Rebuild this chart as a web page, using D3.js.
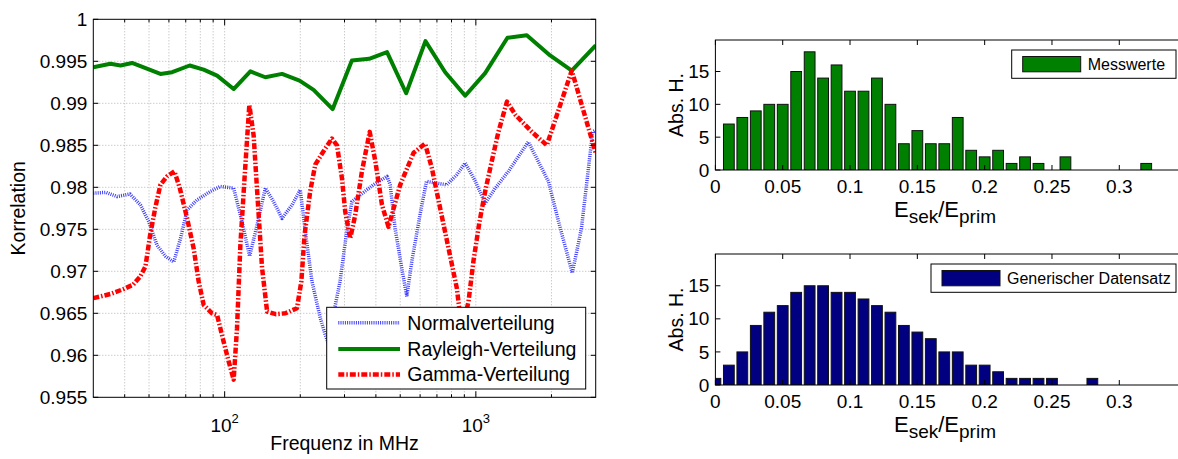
<!DOCTYPE html>
<html><head><meta charset="utf-8">
<script src="https://cdn.jsdelivr.net/npm/d3@7"></script>
<style>
body{margin:0;background:#fff;}
svg{display:block;font-family:"Liberation Sans",Arial,sans-serif;}
</style></head>
<body><svg id="c" width="1178" height="459"></svg>
<script>
// ---------- DATA ----------
const freqRayleigh = [30,35.1,38.5,42.8,55.5,61.8,72.6,82.5,93.3,108.6,126.6,145.2,169.2,198.7,226,269,321,376,443,528,630,755,907,1089,1336,1595,1975,2409,3000];
const valRayleigh  = [0.9943,0.9947,0.9945,0.9948,0.9935,0.9937,0.9945,0.9940,0.9933,0.9917,0.9938,0.9931,0.9935,0.9927,0.9916,0.9893,0.9951,0.9953,0.9961,0.9912,0.9974,0.9937,0.9909,0.9936,0.9978,0.9981,0.9957,0.9939,0.9969];

const freqGamma = [30,35.1,39.7,43.2,46.2,48.4,50.5,52.9,55.5,59,63.1,66.3,70.9,75.3,78.8,82.5,89.1,93.3,99.1,103.7,108.6,112,115.5,120,125.4,130.4,135.8,140.9,147.6,159.8,174.4,194,202,208,219,229.5,247.6,267.4,280,293,302,316,331,352,378,398,423,449,500,565,628,668,721,779,840,880,935,978,1034,1089,1157,1230,1330,1440,1672,1916,2409,3000];
const valGamma  = [0.9668,0.9673,0.9679,0.9684,0.9694,0.9706,0.9743,0.9775,0.9803,0.9813,0.9819,0.9799,0.9763,0.9727,0.9688,0.9660,0.9650,0.9648,0.9616,0.9593,0.9571,0.9632,0.9731,0.9811,0.9898,0.9862,0.9779,0.9704,0.9652,0.9649,0.9650,0.9656,0.9688,0.9743,0.9795,0.9827,0.9843,0.9858,0.9850,0.9811,0.9771,0.9739,0.9767,0.9819,0.9866,0.9831,0.9779,0.9753,0.9803,0.9841,0.9852,0.9823,0.9775,0.9727,0.9680,0.9630,0.9664,0.9712,0.9759,0.9795,0.9831,0.9866,0.9902,0.9886,0.9866,0.9850,0.9939,0.9841];

const freqNormal = [30,33.7,37.3,42,46.2,49.9,53.8,58.1,62.7,66.7,70.9,77.6,87.7,96.1,108.6,117.3,125.7,134.6,145.2,156.6,169.2,185.5,200,209.6,222.6,240.4,251.8,262,275,288,306,321,347,391,443,456,477,507,531,556,599,636,697,766,840,907,996,1089,1195,1348,1617,1945,2135,2421,2632,2918,3000];
const valNormal  = [0.9793,0.9794,0.9789,0.9792,0.9779,0.9759,0.9731,0.9718,0.9711,0.9739,0.9773,0.9785,0.9795,0.9801,0.9799,0.9759,0.9718,0.9755,0.9799,0.9783,0.9763,0.9779,0.9797,0.9747,0.9688,0.9644,0.9624,0.9610,0.9658,0.9688,0.9747,0.9783,0.9791,0.9803,0.9813,0.9803,0.9751,0.9704,0.9670,0.9712,0.9767,0.9807,0.9805,0.9803,0.9815,0.9829,0.9807,0.9781,0.9799,0.9819,0.9854,0.9807,0.9759,0.9698,0.9751,0.9866,0.9868];

const seriesNames = ["Normalverteilung","Rayleigh-Verteilung","Gamma-Verteilung"];
const yTicksLeft = [1,0.995,0.99,0.985,0.98,0.975,0.97,0.965,0.96,0.955];
const yTickLabelsLeft = ["1","0.995","0.99","0.985","0.98","0.975","0.97","0.965","0.96","0.955"];
const xMajorLeft = [100,1000];
const xMajorExp = ["2","3"];
const xMinorLeft = [40,50,60,70,80,90,200,300,400,500,600,700,800,900,2000];

// histogram bins (centres)
const binsMess = [0.01,0.02,0.03,0.04,0.05,0.06,0.07,0.08,0.09,0.10,0.11,0.12,0.13,0.14,0.15,0.16,0.17,0.18,0.19,0.20,0.21,0.22,0.23,0.24,0.25,0.26,0.27,0.28,0.29,0.30,0.31,0.32];
const countsMess = [7,8,9,10,10,15,18,14,16,12,12,14,10,4,6,4,4,8,3,2,3,1,2,1,0,2,0,0,0,0,0,1];
const binsGen = [0,0.01,0.02,0.03,0.04,0.05,0.06,0.07,0.08,0.09,0.10,0.11,0.12,0.13,0.14,0.15,0.16,0.17,0.18,0.19,0.20,0.21,0.22,0.23,0.24,0.25,0.26,0.27,0.28];
const countsGen = [1,3,5,9,11,12,14,15,15,14,14,13,12,11,9,8,7,5,5,3,3,2,1,1,1,1,0,0,1];
const histXTicks = [0,0.05,0.1,0.15,0.2,0.25,0.3];
const histXTickLabels = ["0","0.05","0.1","0.15","0.2","0.25","0.3"];
const histYTicks = [0,5,10,15];
const histLegend = ["Messwerte","Generischer Datensatz"];

// ---------- DRAW ----------
const svg = d3.select("#c");
const axisCol = "#000";
const TF = 19;    // tick font
const LF = 19.5;  // label font

// Left chart
const L = {x0:93.3, x1:595.7, y0:19.3, y1:397.3};
const x = d3.scaleLog().domain([30,3000]).range([L.x0, L.x1]);
const y = d3.scaleLinear().domain([0.955,1]).range([L.y1, L.y0]);

const gL = svg.append("g");
const gridCol = "#b4b4b4";
gL.selectAll("line.gy").data(yTicksLeft.slice(1,-1)).join("line")
  .attr("x1",L.x0).attr("x2",L.x1).attr("y1",d=>y(d)).attr("y2",d=>y(d))
  .attr("stroke",gridCol).attr("stroke-width",1).attr("stroke-dasharray","1,2");
gL.selectAll("line.gx").data(xMinorLeft.concat(xMajorLeft)).join("line")
  .attr("x1",d=>x(d)).attr("x2",d=>x(d)).attr("y1",L.y0).attr("y2",L.y1)
  .attr("stroke",gridCol).attr("stroke-width",1).attr("stroke-dasharray","1,2");

svg.append("clipPath").attr("id","clipL").append("rect")
  .attr("x",L.x0).attr("y",L.y0).attr("width",L.x1-L.x0).attr("height",L.y1-L.y0);

const line = d3.line().x(d=>x(d[0])).y(d=>y(d[1]));
const dataN = freqNormal.map((f,i)=>[f,valNormal[i]]);
const dataR = freqRayleigh.map((f,i)=>[f,valRayleigh[i]]);
const dataG = freqGamma.map((f,i)=>[f,valGamma[i]]);
const styles = [
  {stroke:"#3c3cff", w:3.5, dash:"1,1.2"},
  {stroke:"#008000", w:4, dash:null},
  {stroke:"#ff0000", w:4.5, dash:"6,2,1.5,2"}
];
const gLines = gL.append("g").attr("clip-path","url(#clipL)");
[dataN,dataR,dataG].forEach((d,i)=>{
  gLines.append("path").datum(d).attr("d",line).attr("fill","none")
    .attr("stroke",styles[i].stroke).attr("stroke-width",styles[i].w)
    .attr("stroke-dasharray",styles[i].dash).attr("stroke-linejoin","round");
});

gL.append("rect").attr("x",L.x0).attr("y",L.y0).attr("width",L.x1-L.x0).attr("height",L.y1-L.y0)
  .attr("fill","none").attr("stroke",axisCol).attr("stroke-width",1);
yTicksLeft.forEach(t=>{
  gL.append("line").attr("x1",L.x0).attr("x2",L.x0+5).attr("y1",y(t)).attr("y2",y(t)).attr("stroke",axisCol);
  gL.append("line").attr("x1",L.x1).attr("x2",L.x1-5).attr("y1",y(t)).attr("y2",y(t)).attr("stroke",axisCol);
});
xMinorLeft.forEach(t=>{
  gL.append("line").attr("x1",x(t)).attr("x2",x(t)).attr("y1",L.y1).attr("y2",L.y1-3).attr("stroke",axisCol);
  gL.append("line").attr("x1",x(t)).attr("x2",x(t)).attr("y1",L.y0).attr("y2",L.y0+3).attr("stroke",axisCol);
});
xMajorLeft.forEach(t=>{
  gL.append("line").attr("x1",x(t)).attr("x2",x(t)).attr("y1",L.y1).attr("y2",L.y1-6).attr("stroke",axisCol);
  gL.append("line").attr("x1",x(t)).attr("x2",x(t)).attr("y1",L.y0).attr("y2",L.y0+6).attr("stroke",axisCol);
});
gL.selectAll("text.yl").data(yTicksLeft).join("text")
  .attr("x",L.x0-6).attr("y",d=>y(d)).attr("dy","0.35em").attr("text-anchor","end")
  .attr("font-size",TF).text((d,i)=>yTickLabelsLeft[i]);
xMajorLeft.forEach((t,i)=>{
  const tx = gL.append("text").attr("x",x(t)).attr("y",L.y1+35).attr("text-anchor","middle").attr("font-size",TF);
  tx.append("tspan").text("10");
  tx.append("tspan").attr("dy",-9).attr("font-size",13).text(xMajorExp[i]);
});
gL.append("text").attr("x",(L.x0+L.x1)/2).attr("y",450).attr("text-anchor","middle")
  .attr("font-size",LF).text("Frequenz in MHz");
gL.append("text").attr("transform",`translate(25,${(L.y0+L.y1)/2}) rotate(-90)`)
  .attr("text-anchor","middle").attr("font-size",LF).text("Korrelation");

// legend left
const lg = {x:326.7, y:307.3, w:259, h:81.7};
gL.append("rect").attr("x",lg.x).attr("y",lg.y).attr("width",lg.w).attr("height",lg.h)
  .attr("fill","#fff").attr("stroke",axisCol);
const rowY = [322.7,349,374.5];
seriesNames.forEach((n,i)=>{
  gL.append("line").attr("x1",338.3).attr("x2",400).attr("y1",rowY[i]).attr("y2",rowY[i])
    .attr("stroke",styles[i].stroke).attr("stroke-width",styles[i].w).attr("stroke-dasharray",styles[i].dash);
  gL.append("text").attr("x",407.3).attr("y",rowY[i]).attr("dy","0.35em").attr("font-size",LF).text(n);
});

// ---------- histograms ----------
function hist(top, bottom, bins, counts, fill, legendText, legendBox, clipId){
  const H = {x0:715.4, x1:1186.6, y0:top, y1:bottom};
  const hx = d3.scaleLinear().domain([0,0.35]).range([H.x0,H.x1]);
  const hy = d3.scaleLinear().domain([0,19.8]).range([H.y1,H.y0]);
  const g = svg.append("g");
  svg.append("clipPath").attr("id",clipId).append("rect")
    .attr("x",H.x0).attr("y",H.y0).attr("width",H.x1-H.x0).attr("height",H.y1-H.y0);
  const gb = g.append("g").attr("clip-path",`url(#${clipId})`);
  gb.selectAll("rect").data(bins.map((b,i)=>[b,counts[i]]).filter(d=>d[1]>0)).join("rect")
    .attr("x",d=>hx(d[0]-0.004)).attr("width",hx(0.008)-hx(0))
    .attr("y",d=>hy(d[1])).attr("height",d=>hy(0)-hy(d[1]))
    .attr("fill",fill).attr("stroke","#111").attr("stroke-width",1);
  g.append("rect").attr("x",H.x0).attr("y",H.y0).attr("width",H.x1-H.x0).attr("height",H.y1-H.y0)
    .attr("fill","none").attr("stroke",axisCol);
  histXTicks.forEach((t,i)=>{
    g.append("line").attr("x1",hx(t)).attr("x2",hx(t)).attr("y1",H.y1).attr("y2",H.y1-5).attr("stroke",axisCol);
    g.append("line").attr("x1",hx(t)).attr("x2",hx(t)).attr("y1",H.y0).attr("y2",H.y0+5).attr("stroke",axisCol);
    g.append("text").attr("x",hx(t)).attr("y",H.y1+23).attr("text-anchor","middle").attr("font-size",TF).text(histXTickLabels[i]);
  });
  histYTicks.forEach(t=>{
    g.append("line").attr("x1",H.x0).attr("x2",H.x0+5).attr("y1",hy(t)).attr("y2",hy(t)).attr("stroke",axisCol);
    g.append("text").attr("x",H.x0-6).attr("y",hy(t)).attr("dy","0.35em").attr("text-anchor","end").attr("font-size",TF).text(t);
  });
  const xl = g.append("text").attr("x",945).attr("y",H.y1+47).attr("text-anchor","middle").attr("font-size",22);
  xl.append("tspan").text("E");
  xl.append("tspan").attr("dy",6).attr("font-size",19).text("sek");
  xl.append("tspan").attr("dy",-6).text("/E");
  xl.append("tspan").attr("dy",6).attr("font-size",19).text("prim");
  g.append("text").attr("transform",`translate(683,${(H.y0+H.y1)/2}) rotate(-90)`)
    .attr("text-anchor","middle").attr("font-size",LF).text("Abs. H.");
  // legend
  g.append("rect").attr("x",legendBox.x).attr("y",legendBox.y).attr("width",legendBox.w).attr("height",legendBox.h)
    .attr("fill","#fff").attr("stroke",axisCol);
  g.append("rect").attr("x",legendBox.x+11).attr("y",legendBox.y+6.5).attr("width",58).attr("height",legendBox.h-13)
    .attr("fill",fill).attr("stroke","#111");
  g.append("text").attr("x",legendBox.x+76).attr("y",legendBox.y+legendBox.h/2).attr("dy","0.35em")
    .attr("font-size",16).text(legendText);
}
hist(40,170,binsMess,countsMess,"#008000",histLegend[0],{x:1011.7,y:50,w:164.3,h:28.3},"clipH1");
hist(254,385,binsGen,countsGen,"#000080",histLegend[1],{x:931,y:264,w:245,h:28.3},"clipH2");
</script></body></html>
